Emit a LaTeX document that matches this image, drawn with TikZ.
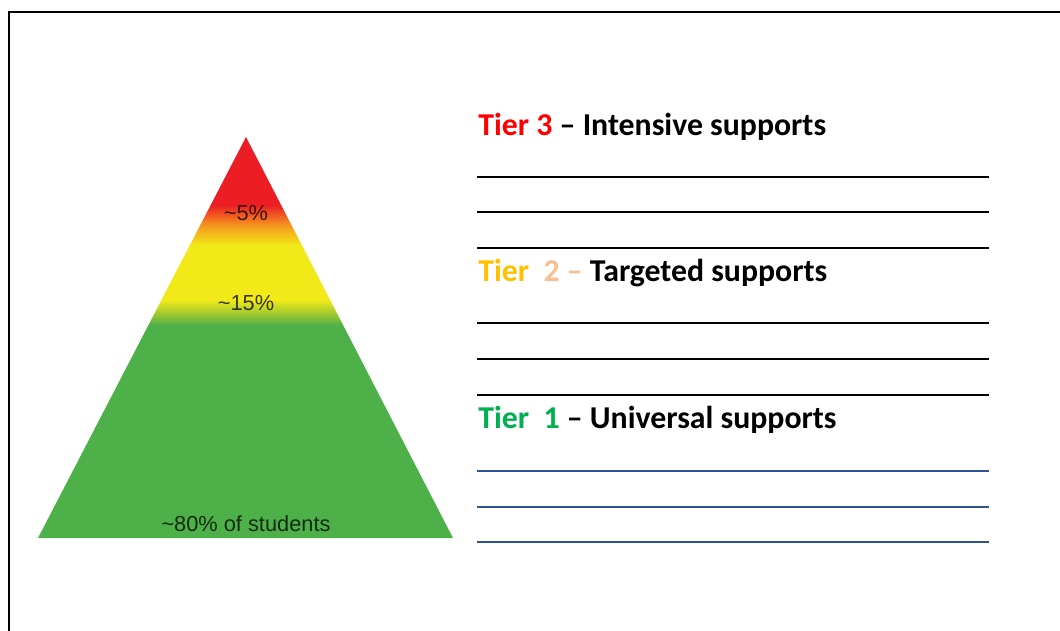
\documentclass[tikz,border=0pt]{standalone}
\usepackage{fontspec}
\setmainfont{Carlito}
\newfontfamily\arialfont{Liberation Sans}
\usetikzlibrary{positioning}
\definecolor{tierred}{RGB}{255, 0, 0}
\definecolor{tiergold}{RGB}{255, 192, 0}
\definecolor{tierpeach}{RGB}{250, 191, 143}
\definecolor{tiergreen}{RGB}{0, 176, 80}
\definecolor{ruleblue}{RGB}{47, 84, 150}
\definecolor{pyrred}{RGB}{236, 30, 36}
\definecolor{pyrorange}{RGB}{245, 150, 30}
\definecolor{pyryellow}{RGB}{242, 234, 24}
\definecolor{pyrlime}{RGB}{170, 205, 45}
\definecolor{pyrgreen}{RGB}{78, 176, 72}
\pgfdeclareverticalshading{tiershade}{100bp}{
  color(0bp)=(pyrgreen); color(25bp)=(pyrgreen); color(51.5bp)=(pyrgreen);
  color(53.2bp)=(pyrlime); color(54.7bp)=(pyryellow); color(61.5bp)=(pyryellow);
  color(64bp)=(pyrorange); color(66.5bp)=(pyrred); color(100bp)=(pyrred)}

\begin{document}
\begin{tikzpicture}[x=0.02cm, y=-0.02cm,
  tiertitle/.style={anchor=base west, inner sep=0pt, font=\fontsize{18.1}{21}\selectfont\bfseries},
  pctlabel/.style={inner sep=0pt, text=black, text opacity=0.75, font=\arialfont\fontsize{12.4}{14}\selectfont},
  rule/.style={line width=0.04cm}]
  \useasboundingbox (0,0) rectangle (1060,631);

  % page frame
  \draw[line width=0.04cm] (9,631) -- (9,12) -- (1060,12);

  % pyramid
  \path[shading=tiershade] (246,137) -- (453,538) -- (38,538) -- cycle;
  \node[pctlabel] (five) at (246,213) {\char`~5\%};
  \node[pctlabel] (fifteen) at (246,303) {\char`~15\%};
  \node[pctlabel] (eighty) at (246,524) {\char`~80\% of students};

  % tier headings
  \node[tiertitle] (tier3) at (478,136) {\textcolor{tierred}{Tier 3} -- Intensive supports};
  \node[tiertitle] (tier2) at (478,281) {\textcolor{tiergold}{Tier}\ \ \textcolor{tierpeach}{2 --} Targeted supports};
  \node[tiertitle] (tier1) at (478,428) {\textcolor{tiergreen}{Tier\ \ 1} -- Universal supports};

  % writing lines
  \foreach \y in {177, 212, 248, 323, 359, 395}
    \draw[rule] (477,\y) -- (989,\y);
  \foreach \y in {471, 507, 542}
    \draw[rule, ruleblue] (477,\y) -- (989,\y);
\end{tikzpicture}
\end{document}
